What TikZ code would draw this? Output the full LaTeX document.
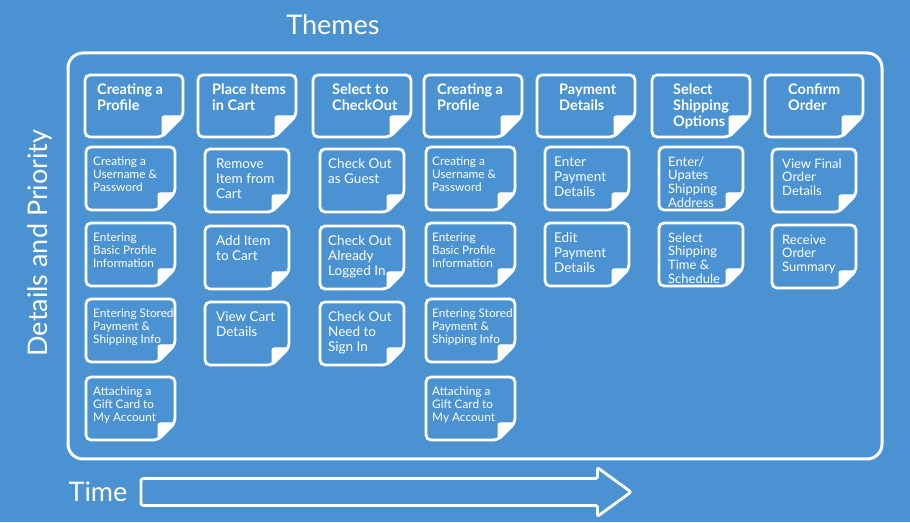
\documentclass[tikz,border=0pt]{standalone}
\usepackage{fontspec}
\setmainfont{Lato}
\usetikzlibrary{positioning, shapes.arrows}

\definecolor{boardblue}{RGB}{74,146,209}

\newcommand{\headfont}{\fontsize{14.5}{16}\selectfont\bfseries}
\newcommand{\itemfont}{\fontsize{13.5}{15}\selectfont}
\newcommand{\itemfontmid}{\fontsize{13}{13.6}\selectfont}
\newcommand{\itemfontsm}{\fontsize{11.8}{13}\selectfont}
\newcommand{\axisfont}{\fontsize{27}{32}\selectfont}

% card outline with a folded corner: width, height, fold, x pad, y pad
\newcommand{\cardedge}[5]{%
  \draw[cardline] ([shift={(-#4,#5)}]\tikzlastnode.north west) -- ++(#1,0)
    -- ++(0,{-(#2-#3)}) coordinate (fold a) -- ++(-#3,-#3) coordinate (fold b)
    -- ++({-(#1-#3)},0) -- cycle;
  \filldraw[cardfold] (fold a) -- ++(-#3,0) -- (fold b) -- cycle;}

\begin{document}
\begin{tikzpicture}[x=1pt, y=1pt,
    cardline/.style={draw=white, line width=2.8pt, rounded corners=5pt},
    cardfold/.style={fill=white, draw=white, line width=1pt, rounded corners=2pt},
    cardtext/.style={anchor=north west, inner sep=0pt, text=white, align=left},
    head/.style={cardtext, font=\headfont, xshift=#1pt, yshift=-9pt,
        append after command={\pgfextra{\cardedge{98}{62}{21}{#1}{9}}}},
    item/.style={cardtext, font=\itemfont, xshift=#1pt, yshift=-9.5pt,
        append after command={\pgfextra{\cardedge{84}{63}{17}{#1}{9.5}}}},
    itemwide/.style={cardtext, font=\itemfontsm, xshift=#1pt, yshift=-10pt,
        append after command={\pgfextra{\cardedge{89}{63}{17}{#1}{10}}}},
    axis/.style={text=white, font=\axisfont, inner sep=0pt},
    timearrow/.style={single arrow, draw=white, line width=2.8pt, rounded corners=2pt,
        inner xsep=0pt, inner ysep=12pt, minimum height=490pt,
        single arrow head extend=11pt, single arrow tip angle=72}]

    \useasboundingbox (0,0) rectangle (910,522);
    \fill[boardblue] (0,0) rectangle (910,522);
    \draw[draw=white, line width=3pt, rounded corners=15pt] (68,63) rectangle (882,469);

    \node[axis] (themes) at (333,497) {Themes};
    \node[axis, rotate=90] (priority) at (40,279) {Details and Priority};
    \node[axis] (time) at (98,30) {Time};
    \node[timearrow, right=12pt of time] (timeline) {};

    % themes
    \node[head=12] (theme1) at (85,447) {Creating a\\Profile};
    \node[head=14] (theme2) at (198,447) {Place Items\\in Cart};
    \node[head=19] (theme3) at (313,447) {Select to\\CheckOut};
    \node[head=13] (theme4) at (424,447) {Creating a\\Profile};
    \node[head=22] (theme5) at (537,447) {Payment\\Details};
    \node[head=21] (theme6) at (652,447) {Select\\Shipping\\Options};
    \node[head=23] (theme7) at (765,447) {Confirm\\Order};

    % details under each theme
    \node[itemwide=7] (profileA) at (86,375) {Creating a\\Username \&\\Password};
    \node[itemwide=7] (profileB) at (86,299) {Entering\\Basic Profile\\Information};
    \node[itemwide=7] (profileC) at (86,223) {Entering Stored\\Payment \&\\Shipping Info};
    \node[itemwide=7] (profileD) at (86,145) {Attaching a\\Gift Card to\\My Account};

    \node[item=11] (cartA) at (205,373) {Remove\\Item from\\Cart};
    \node[item=11] (cartB) at (205,296) {Add Item\\to Cart};
    \node[item=11] (cartC) at (205,220) {View Cart\\Details};

    \node[item=8] (checkoutA) at (320,373) {Check Out\\as Guest};
    \node[item=8] (checkoutB) at (320,296) {Check Out\\Already\\Logged In};
    \node[item=8] (checkoutC) at (320,220) {Check Out\\Need to\\Sign In};

    \node[itemwide=6] (accountA) at (426,375) {Creating a\\Username \&\\Password};
    \node[itemwide=6] (accountB) at (426,299) {Entering\\Basic Profile\\Information};
    \node[itemwide=6] (accountC) at (426,223) {Entering Stored\\Payment \&\\Shipping Info};
    \node[itemwide=6] (accountD) at (426,145) {Attaching a\\Gift Card to\\My Account};

    \node[item=9] (paymentA) at (545,375) {Enter\\Payment\\Details};
    \node[item=9] (paymentB) at (545,299) {Edit\\Payment\\Details};

    \node[item=9, font=\itemfontmid] (shippingA) at (659,375) {Enter/\\Upates\\Shipping\\Address};
    \node[item=9, font=\itemfontmid] (shippingB) at (659,299) {Select\\Shipping\\Time \&\\Schedule};

    \node[item=10, font=\itemfontmid] (orderA) at (772,373) {View Final\\Order\\Details};
    \node[item=10, font=\itemfontmid] (orderB) at (772,297) {Receive\\Order\\Summary};
\end{tikzpicture}
\end{document}
